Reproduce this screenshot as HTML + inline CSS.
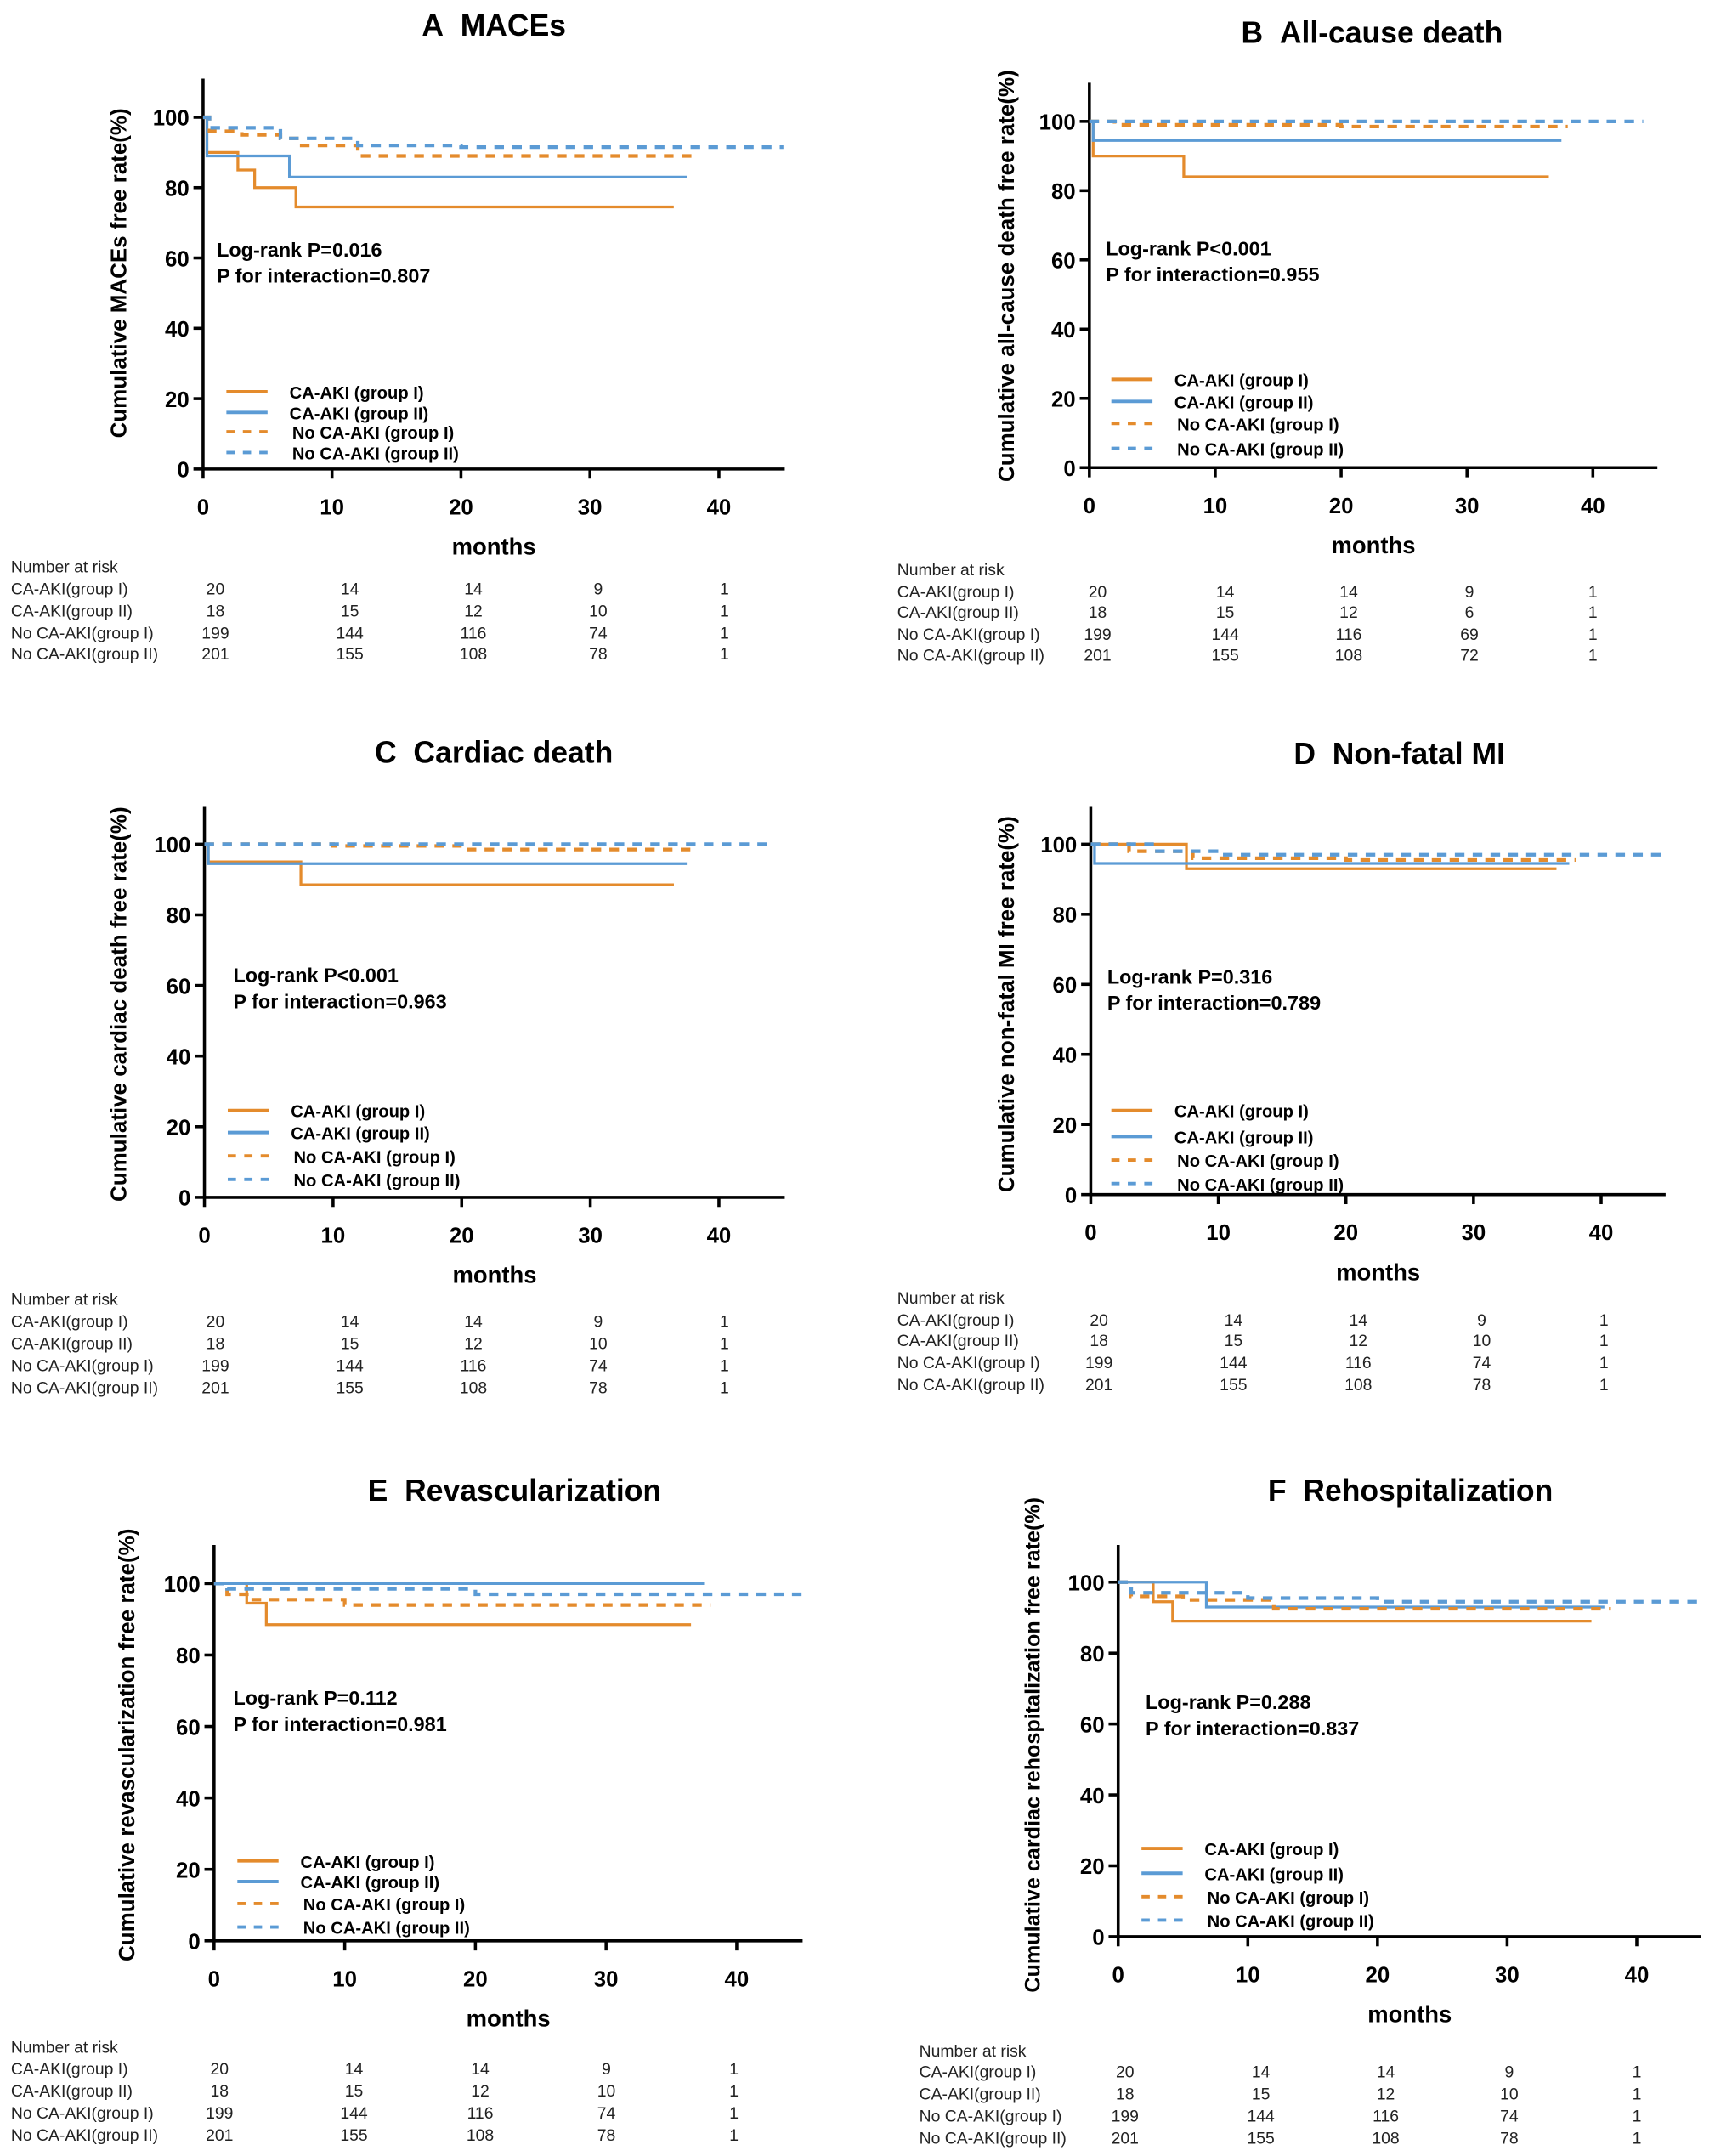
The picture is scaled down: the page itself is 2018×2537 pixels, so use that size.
<!DOCTYPE html>
<html><head><meta charset="utf-8"><style>
html,body{margin:0;padding:0;background:#fff;}
svg{display:block;font-family:"Liberation Sans",Arial,sans-serif;}
</style></head><body>
<svg id="fig" width="2018" height="2537" viewBox="0 0 1250 1563" preserveAspectRatio="none" xmlns="http://www.w3.org/2000/svg"></svg>
<script>
// ---- data ----
const panelTitles = ["A\u00a0\u00a0MACEs","B\u00a0\u00a0All-cause death","C\u00a0\u00a0Cardiac death","D\u00a0\u00a0Non-fatal MI","E\u00a0\u00a0Revascularization","F\u00a0\u00a0Rehospitalization"];
const yTitles = ["Cumulative MACEs free rate(%)","Cumulative all-cause death free rate(%)","Cumulative cardiac death free rate(%)","Cumulative non-fatal MI free rate(%)","Cumulative revascularization free rate(%)","Cumulative cardiac rehospitalization free rate(%)"];
const logRank = ["Log-rank P=0.016","Log-rank P<0.001","Log-rank P<0.001","Log-rank P=0.316","Log-rank P=0.112","Log-rank P=0.288"];
const interaction = ["P for interaction=0.807","P for interaction=0.955","P for interaction=0.963","P for interaction=0.789","P for interaction=0.981","P for interaction=0.837"];
const seriesNames = ["CA-AKI (group I)","CA-AKI (group II)","No CA-AKI (group I)","No CA-AKI (group II)"];
const riskRowNames = ["CA-AKI(group I)","CA-AKI(group II)","No CA-AKI(group I)","No CA-AKI(group II)"];
const xTicks = [0,10,20,30,40];
const yTicks = [0,20,40,60,80,100];
const curvesA = [
 [[0,100],[0.3,90],[2.7,85],[4,80],[7.2,74.5],[36.5,74.5]],
 [[0,100],[0.3,89],[6.7,83],[37.5,83]],
 [[0,100],[0.5,96],[3,95],[6,94],[7.5,92],[12,89],[38,89]],
 [[0,100],[0.5,97],[6,94],[12,92],[20,91.5],[45,91.5]]];
const curvesB = [
 [[0,100],[0.3,90],[7.5,84],[36.5,84]],
 [[0,100],[0.3,94.5],[37.5,94.5]],
 [[0,100],[2,99],[20,98.5],[38,98.5]],
 [[0,100],[44,100]]];
const curvesC = [
 [[0,100],[0.3,95],[7.5,88.5],[36.5,88.5]],
 [[0,100],[0.3,94.5],[37.5,94.5]],
 [[0,100],[10,99.5],[20,98.5],[38,98.5]],
 [[0,100],[44,100]]];
const curvesD = [
 [[0,100],[7.5,93],[36.5,93]],
 [[0,100],[0.3,94.5],[37.5,94.5]],
 [[0,100],[3,98],[8,96],[20,95.5],[38,95.5]],
 [[0,100],[5,98],[10,97],[45,97]]];
const curvesE = [
 [[0,100],[2.5,94.5],[4,88.5],[36.5,88.5]],
 [[0,100],[37.5,100]],
 [[0,100],[1,97],[3,95.5],[10,94],[38,94]],
 [[0,100],[1,98.5],[20,97],[45,97]]];
const curvesF = [
 [[0,100],[2.7,94.5],[4.2,89],[36.5,89]],
 [[0,100],[6.8,93],[37.5,93]],
 [[0,100],[1,96],[5,95],[12,92.5],[38,92.5]],
 [[0,100],[1,97],[10,95.5],[20,94.5],[45,94.5]]];
const riskA = [[20,14,14,9,1],[18,15,12,10,1],[199,144,116,74,1],[201,155,108,78,1]];
const riskB = [[20,14,14,9,1],[18,15,12,6,1],[199,144,116,69,1],[201,155,108,72,1]];
const riskC = [[20,14,14,9,1],[18,15,12,10,1],[199,144,116,74,1],[201,155,108,78,1]];
const riskD = [[20,14,14,9,1],[18,15,12,10,1],[199,144,116,74,1],[201,155,108,78,1]];
const riskE = [[20,14,14,9,1],[18,15,12,10,1],[199,144,116,74,1],[201,155,108,78,1]];
const riskF = [[20,14,14,9,1],[18,15,12,10,1],[199,144,116,74,1],[201,155,108,78,1]];
const allCurves=[curvesA,curvesB,curvesC,curvesD,curvesE,curvesF];
const allRisk=[riskA,riskB,riskC,riskD,riskE,riskF];

const L=[
 {ax:148,top:57,y100:85,y0:340,x40:524,xe:572,tx:360,ty:26,ytx:86,ycy:198,lr:158,lry:181,lgx:165,lgy:[284,299,313,328],rx:8,ry:411,rr:[427,443,459,474],rc:[157,255,345,436,528]},
 {ax:794,top:60,y100:88,y0:339,x40:1161,xe:1208,tx:1000,ty:31,ytx:733,ycy:200,lr:806,lry:180,lgx:810,lgy:[275,291,307,325],rx:654,ry:413,rr:[429,444,460,475],rc:[800,893,983,1071,1161]},
 {ax:149,top:585,y100:612,y0:868,x40:524,xe:572,tx:360,ty:553,ytx:86,ycy:728,lr:170,lry:707,lgx:166,lgy:[805,821,838,855],rx:8,ry:942,rr:[958,974,990,1006],rc:[157,255,345,436,528]},
 {ax:795,top:585,y100:612,y0:866,x40:1167,xe:1214,tx:1020,ty:554,ytx:733,ycy:728,lr:807,lry:708,lgx:810,lgy:[805,824,841,858],rx:654,ry:941,rr:[957,972,988,1004],rc:[801,899,990,1080,1169]},
 {ax:156,top:1120,y100:1148,y0:1407,x40:537,xe:585,tx:375,ty:1088,ytx:92,ycy:1265,lr:170,lry:1231,lgx:173,lgy:[1349,1364,1380,1397],rx:8,ry:1484,rr:[1500,1516,1532,1548],rc:[160,258,350,442,535]},
 {ax:815,top:1120,y100:1147,y0:1404,x40:1193,xe:1240,tx:1028,ty:1088,ytx:752,ycy:1265,lr:835,lry:1234,lgx:832,lgy:[1340,1358,1375,1392],rx:670,ry:1487,rr:[1502,1518,1534,1550],rc:[820,919,1010,1100,1193]}
];
const colors=["#E48B2C","#5B9BD5","#E48B2C","#5B9BD5"];
const dashes=[null,null,"7,6","7,6"];
const svg=document.getElementById('fig');
const NS="http://www.w3.org/2000/svg";
function mk(tag,attrs,parent){const e=document.createElementNS(NS,tag);for(const k in attrs)e.setAttribute(k,attrs[k]);(parent||svg).appendChild(e);return e;}
function txt(s,attrs,parent){const e=mk('text',attrs,parent);e.textContent=s;return e;}

L.forEach((p,i)=>{
  const g=mk('g',{});
  
  
  const X=t=>p.ax+(p.x40-p.ax)*t/40;
  const Y=v=>p.y0+(p.y100-p.y0)*v/100;
  const t=txt(panelTitles[i],{x:p.tx,y:p.ty,'text-anchor':'middle','font-size':22,'font-weight':'bold'},g);
  
  
  const ya=mk('line',{x1:p.ax,y1:p.top,x2:p.ax,y2:p.y0+1,stroke:'#000','stroke-width':2.2},g);
  
  
  const xa=mk('line',{x1:p.ax-1,y1:p.y0,x2:p.xe,y2:p.y0,stroke:'#000','stroke-width':2.2},g);
  
  
  yTicks.forEach(v=>{
    mk('line',{x1:p.ax-7,y1:Y(v),x2:p.ax,y2:Y(v),stroke:'#000','stroke-width':2.2},g);
    const l=txt(String(v),{x:p.ax-10,y:Y(v)+6,'text-anchor':'end','font-size':16,'font-weight':'bold'},g);
    
    
  });
  xTicks.forEach(v=>{
    mk('line',{x1:X(v),y1:p.y0,x2:X(v),y2:p.y0+7,stroke:'#000','stroke-width':2.2},g);
    const l=txt(String(v),{x:X(v),y:p.y0+33,'text-anchor':'middle','font-size':16,'font-weight':'bold'},g);
    
    
  });
  const xt=txt('months',{x:(p.ax+p.xe)/2,y:p.y0+62,'text-anchor':'middle','font-size':17,'font-weight':'bold'},g);
  
  
  const yt=txt(yTitles[i],{x:0,y:0,transform:`translate(${p.ytx+6},${p.ycy}) rotate(-90)`,'text-anchor':'middle','font-size':i==5?15.5:16,'font-weight':'bold'},g);
  
  
  const a1=txt(logRank[i],{x:p.lr,y:p.lry+5,'font-size':14.5,'font-weight':'bold'},g);
  
  
  const a2=txt(interaction[i],{x:p.lr,y:p.lry+24,'font-size':14.5,'font-weight':'bold'},g);
  
  
  allCurves[i].forEach((c,k)=>{
    let d='M'+X(c[0][0])+','+Y(c[0][1]);
    for(let j=1;j<c.length;j++){d+=' H'+X(c[j][0])+' V'+Y(c[j][1]);}
    const at={d:d,fill:'none',stroke:colors[k],'stroke-width':k<2?2:2.6};
    if(dashes[k])at['stroke-dasharray']=dashes[k];
    const pa=mk('path',at,g);
    
    
  });
  seriesNames.forEach((s,k)=>{
    const at={x1:p.lgx,y1:p.lgy[k],x2:p.lgx+30,y2:p.lgy[k],stroke:colors[k],'stroke-width':2.4};
    if(dashes[k])at['stroke-dasharray']='6,6';
    mk('line',at,g);
    const lt=txt(s,{x:p.lgx+46+(k>=2?2:0),y:p.lgy[k]+5,'font-size':12.5,'font-weight':'bold'},g);
    
    
  });
  const rh=txt('Number at risk',{x:p.rx,y:p.ry+4,'font-size':12,fill:'#222'},g);
  
  
  allRisk[i].forEach((row,r)=>{
    const rn=txt(riskRowNames[r],{x:p.rx,y:p.rr[r]+4,'font-size':12,fill:'#222'},g);
    
    
    row.forEach((v,cI)=>{
      const cv=txt(String(v),{x:p.rc[cI],y:p.rr[r]+4,'text-anchor':'middle','font-size':12,fill:'#222'},g);
      
      
    });
  });
});
</script>
</body></html>
